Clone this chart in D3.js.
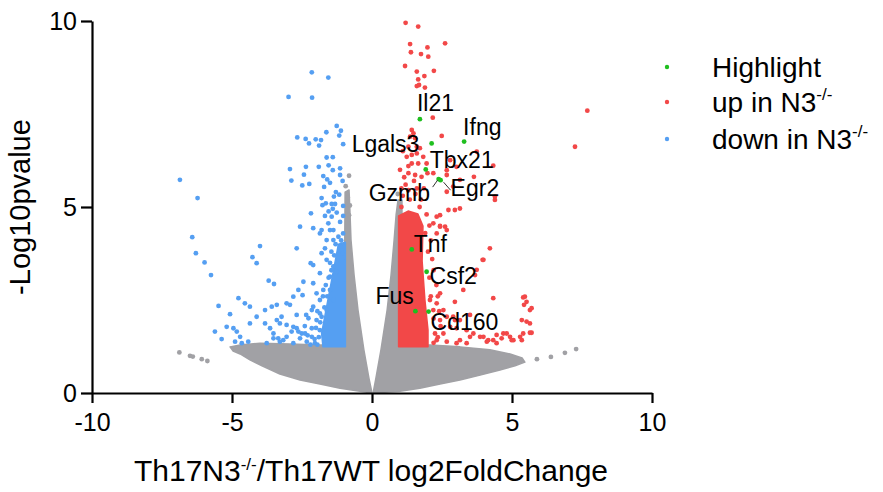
<!DOCTYPE html>
<html>
<head>
<meta charset="utf-8">
<script src="https://cdn.jsdelivr.net/npm/d3@7/dist/d3.min.js"></script>
<style>
  body { margin: 0; background: #fff; }
  text { font-family: "Liberation Sans", Arial, sans-serif; fill: #000; }
</style>
</head>
<body>
<div id="chart"></div>
<script>
// ---- data ----
const xTicks = [-10, -5, 0, 5, 10];
const yTicks = [0, 5, 10];

// outline of the dense grey cloud (not significant genes), left and right wing
const grayLeftOutline = [[0.0,0],[-0.11,0.40],[-0.29,1.16],[-0.50,2.23],[-0.64,3.17],[-0.75,4.11],[-0.79,4.92],
  [-0.82,5.46],[-0.96,5.40],[-1.0,1.29],[-1.86,1.29],[-2.93,1.32],[-4.0,1.34],[-4.71,1.29],[-5.07,1.24],
  [-4.96,1.13],[-4.71,1.05],[-4.36,0.89],[-3.93,0.73],[-3.29,0.51],[-2.57,0.35],[-1.86,0.24],[-1.14,0.13],[-0.43,0.05]];
const grayRightOutline = [[0.04,0],[0.14,0.40],[0.32,1.16],[0.54,2.23],[0.68,3.17],[0.79,4.11],[0.86,4.78],
  [0.93,5.19],[1.07,5.19],[1.07,1.29],[2.07,1.29],[3.14,1.24],[4.21,1.16],[4.93,1.05],[5.36,0.94],[5.46,0.83],
  [5.11,0.73],[4.57,0.62],[3.86,0.48],[3.14,0.35],[2.43,0.24],[1.71,0.13],[1.0,0.05]];
const graySparse = [[-6.88,1.09],[-6.50,1.00],[-6.40,0.98],[-6.08,0.91],[-5.88,0.86],[5.89,0.91],[6.39,0.97],
  [6.89,1.08],[7.29,1.18],[-0.82,5.84],[-0.94,5.56],[-0.87,5.26],[-0.79,5.04],[-0.82,4.78],[0.92,5.35]];

// dense core of "down" genes and scattered "down" genes
const downCore = [[-0.95,1.24],[-1.75,1.24],[-1.8,1.6],[-1.6,2.4],[-1.45,3.0],[-1.3,3.6],[-1.2,4.0],[-0.95,4.05]];
const downGenes = [[-2.15,8.62],[-1.56,8.48],[-2.98,7.96],[-2.14,7.94],[-1.26,7.18],[-1.11,7.05],[-1.17,6.92],
  [-2.67,6.87],[-2.37,6.83],[-2.25,6.71],[-2.01,6.82],[-1.82,6.80],[-1.89,6.65],[-1.63,7.01],[-1.03,6.69],
  [-1.62,6.33],[-1.40,6.34],[-2.93,6.02],[-2.36,6.08],[-1.90,6.08],[-1.55,6.12],[-1.40,5.99],[-1.14,6.04],
  [-2.43,5.87],[-1.74,5.83],[-1.14,5.86],[-1.60,5.74],[-1.50,5.65],[-1.05,5.70],[-2.88,5.71],[-2.49,5.58],
  [-2.24,5.62],[-1.71,5.54],[-1.29,5.40],[-1.17,5.33],[-1.36,5.28],[-1.80,5.24],[-1.65,5.10],[-1.44,5.08],
  [-1.32,5.08],[-1.03,5.03],[-1.77,5.05],[-1.55,4.88],[-1.40,4.95],[-1.26,4.85],[-2.18,4.83],[-1.68,4.76],
  [-1.44,4.74],[-1.03,4.76],[-2.57,4.47],[-2.10,4.43],[-1.86,4.29],[-1.50,4.38],[-1.38,4.38],[-1.80,4.38],
  [-1.03,4.29],[-1.56,4.56],[-1.14,4.60],[-2.69,3.89],[-1.68,3.89],[-1.62,4.11],[-1.38,4.11],[-1.14,3.93],
  [-1.80,3.76],[-1.05,3.76],[-2.19,3.49],[-2.10,3.44],[-1.62,3.58],[-1.38,3.40],[-1.50,3.13],[-1.26,3.26],
  [-1.86,3.22],[-2.10,2.95],[-1.98,2.68],[-1.74,2.77],[-1.50,2.77],[-1.86,2.50],[-1.62,2.23],[-1.38,2.50],
  [-2.10,2.32],[-1.98,1.96],[-1.86,1.69],[-2.15,1.51],[-2.04,1.34],
  [-2.05,1.45],[-1.95,1.30],[-1.90,1.50],[-2.00,1.75],[-1.85,1.90],[-1.80,2.05],[-1.95,2.20],[-1.70,2.30],
  [-1.75,2.60],[-1.60,2.60],[-1.65,2.90],[-1.55,3.10],[-1.45,3.30],[-1.50,3.50],[-1.35,3.70],[-1.45,3.80],
  [-1.30,4.00],[-1.20,4.20],[-1.10,4.10],[-2.20,1.30],[-2.30,1.55],[-2.40,1.80],[-2.35,2.10],
  [-6.86,5.73],[-6.23,5.24],[-6.42,4.19],[-6.29,3.76],[-5.98,3.51],[-5.75,3.17],[-5.48,2.34],[-5.07,2.12],
  [-5.61,1.65],[-5.37,1.45],[-5.19,1.78],[-4.95,1.74],[-4.83,1.65],[-4.71,1.51],[-4.42,1.38],[-4.77,2.55],
  [-4.54,2.41],[-4.36,2.32],[-4.27,3.65],[-4.12,3.49],[-4.0,3.95],[-3.69,3.02],[-3.50,2.93],[-4.12,2.05],
  [-3.82,2.23],[-3.58,2.32],[-3.40,2.37],[-3.82,1.87],[-3.64,1.74],[-3.40,1.96],[-3.23,2.05],[-3.05,1.83],
  [-2.87,1.65],[-2.69,1.74],[-3.76,1.34],[-3.52,1.47],[-3.29,1.38],[-3.05,1.51],[-2.81,1.34],[-2.51,1.60],
  [-2.33,1.38],[-3.05,2.41],[-2.81,2.59],[-2.63,2.77],[-2.45,2.99],[-2.48,2.63],[-4.89,1.38],[-4.65,1.34],
  [-4.36,1.87],[-3.52,1.60],[-3.35,1.47],[-3.17,1.42],[-3.29,1.87],[-2.81,1.78],[-2.63,1.65],[-2.69,2.10],
  [-2.93,2.37],[-2.39,1.60],[-2.57,1.47],[-2.15,1.74],[-1.86,2.14],[-2.15,2.23],[-2.27,2.01]];

// dense core of "up" genes and scattered "up" genes
const upCore = [[0.95,1.24],[0.95,4.76],[1.29,4.89],[1.64,4.81],[1.82,4.49],[1.79,3.55],[1.89,2.50],[2.0,1.69],[2.0,1.24]];
const upGenes = [[1.20,9.95],[1.65,9.85],[1.36,9.38],[1.98,9.29],[2.61,9.40],[1.39,9.16],[1.75,9.11],[2.01,9.04],
  [1.18,8.79],[1.60,8.64],[1.87,8.52],[2.21,8.66],[1.65,8.43],[1.60,8.25],[1.68,8.28],[1.89,8.21],[2.17,7.40],
  [2.49,6.91],[1.42,7.07],[1.48,6.98],[1.36,6.89],[1.54,6.85],[1.60,6.62],[1.30,6.62],[1.42,6.40],[1.60,6.44],
  [1.71,6.58],[1.24,6.35],[1.42,6.17],[1.65,6.17],[1.83,6.35],[1.95,6.17],[1.30,5.91],[1.54,5.86],[1.77,5.81],
  [1.98,5.91],[2.19,5.91],[2.67,5.99],[2.79,6.26],[3.02,6.08],[3.14,5.73],[2.90,5.55],[2.67,5.41],[2.73,4.92],
  [2.96,4.92],[3.14,4.96],[2.31,4.74],[2.19,4.56],[2.43,4.47],[2.61,4.47],[2.31,4.29],[2.67,4.38],[4.33,6.11],
  [4.39,5.19],[4.21,3.89],[3.98,3.58],[3.74,3.31],[3.26,2.77],[2.96,2.45],[2.43,2.68],[2.31,2.41],[2.07,2.50],
  [2.19,2.23],[2.55,2.23],[2.67,2.05],[2.43,1.96],[2.96,1.96],[3.38,1.69],[3.62,1.60],[3.98,1.51],[4.33,1.42],
  [4.69,1.60],[4.93,1.51],[5.05,1.42],[5.35,1.42],[5.46,2.59],[5.52,2.45],[5.35,1.96],[5.52,1.92],[5.64,2.23],
  [5.70,1.62],[4.45,1.56],[4.10,1.38],[3.38,1.34],[3.02,1.34],[2.67,1.38],[2.31,1.42],[2.55,1.60],[3.02,1.74],
  [2.79,1.78],[7.69,7.59],[7.25,6.62],[3.74,6.49],[3.64,5.81],[2.67,5.86],[4.39,5.28],[2.43,4.78],[2.43,4.49],
  [3.95,3.58],[3.68,3.17],[4.33,2.55],[5.40,2.57],[5.70,2.28],[5.43,2.37],[5.64,1.87],[5.40,1.60],[5.64,1.62],
  [5.29,1.51],[4.81,1.60],[4.63,1.47],[4.99,1.42],[4.45,1.34],[4.15,1.42],[3.86,1.51],[3.50,1.51],[3.14,1.42],
  [3.14,1.96],[3.50,2.10],[2.90,2.05],[1.1,5.3],[1.3,5.45],[1.55,5.35],[1.75,5.2],[1.2,5.6],[1.5,5.7],[1.05,5.0],
  [1.9,4.3],[2.0,3.8],[2.05,3.1],[2.1,2.6],[2.2,2.0],[2.25,1.6],[2.2,1.35],
  [1.05,5.5],[1.15,5.8],[1.35,5.2],[1.6,5.5],[1.85,5.5],[1.0,6.0],[1.3,6.1],[1.1,6.5],[1.7,5.0],[1.95,4.8],
  [2.05,4.5],[2.1,4.1],[2.15,3.6],[2.2,3.3],[2.3,2.9],[2.35,2.6],[2.4,2.2],[2.45,1.8],[2.35,1.5]];

// highlighted genes
const geneNames = ["Il21", "Lgals3", "Ifng", "Tbx21", "Gzmb", "Egr2", "Tnf", "Csf2", "Fus", "Cd160"];
const geneX = [1.71, 2.13, 3.29, 1.92, 2.38, 2.45, 1.42, 1.95, 1.55, 2.02];
const geneY = [7.36, 6.71, 6.76, 6.01, 5.75, 5.72, 3.86, 3.26, 2.20, 2.19];

const legendLabels = ["Highlight", "up in N3", "down in N3"];

// ---- layout ----
let margin = {top: 21, right: 231, bottom: 99, left: 92},
  width = 883 - margin.left - margin.right,
  height = 492 - margin.top - margin.bottom;

const colors = {gray: "#a1a1a5", up: "#f24848", down: "#559ff2", high: "#1fbf1f"};
const r = 2.4;

var svg = d3.select("#chart")
  .append("svg")
    .attr("width", 883)
    .attr("height", 492);

var g = svg.append("g")
  .attr("transform", "translate(" + margin.left + "," + margin.top + ")");

var x = d3.scaleLinear().domain([-10, 10]).range([0, width]);
var y = d3.scaleLinear().domain([0, 10]).range([height, 0]);

var outline = d3.line()
  .x(function(d) { return x(d[0]); })
  .y(function(d) { return y(d[1]); });

function cloud(pts, col) {
  g.append("path")
    .attr("d", outline(pts) + "Z")
    .attr("fill", col)
    .attr("stroke", col)
    .attr("stroke-width", 1.5)
    .attr("stroke-linejoin", "round");
}

function dots(pts, col, rad) {
  g.append("g").selectAll("circle")
    .data(pts)
    .enter().append("circle")
    .attr("cx", function(d) { return x(d[0]); })
    .attr("cy", function(d) { return y(d[1]); })
    .attr("r", rad)
    .attr("fill", col);
}

// grey cloud first, then down, up, highlighted
cloud(grayLeftOutline, colors.gray);
cloud(grayRightOutline, colors.gray);
dots(graySparse, colors.gray, r);
cloud(downCore, colors.down);
dots(downGenes, colors.down, r);
cloud(upCore, colors.up);
dots(upGenes, colors.up, r);

var genes = geneNames.map(function(n, i) { return {name: n, x: geneX[i], y: geneY[i]}; });
dots(genes.map(function(d) { return [d.x, d.y]; }), colors.high, r);

// label offsets from each dot (px)
const labelPos = {
  Il21: [-3, -8], Lgals3: [-80, 9], Ifng: [-1, -7], Tbx21: [4, -1], Gzmb: [-70, 22],
  Egr2: [10, 16], Tnf: [2, 3], Csf2: [3, 12], Fus: [-40, -7], Cd160: [2, 18]
};
const leaders = { Gzmb: [[-6, 8], [-1, 1]], Egr2: [[3, 2], [10, 10]] };

g.append("g").selectAll("text")
  .data(genes)
  .enter().append("text")
  .attr("x", function(d) { return x(d.x) + labelPos[d.name][0]; })
  .attr("y", function(d) { return y(d.y) + labelPos[d.name][1]; })
  .style("font-size", "23px")
  .text(function(d) { return d.name; });

genes.filter(function(d) { return leaders[d.name]; }).forEach(function(d) {
  var l = leaders[d.name];
  g.append("line")
    .attr("x1", x(d.x) + l[0][0]).attr("y1", y(d.y) + l[0][1])
    .attr("x2", x(d.x) + l[1][0]).attr("y2", y(d.y) + l[1][1])
    .attr("stroke", "#333").attr("stroke-width", 1);
});

// axes (plain hyphen for negatives, like the original)
var plain = function(d) { return String(d); };
var xAxis = g.append("g")
  .attr("transform", "translate(0," + height + ")")
  .call(d3.axisBottom(x).tickValues(xTicks).tickFormat(plain).tickSize(10).tickSizeOuter(0).tickPadding(10));
var yAxis = g.append("g")
  .call(d3.axisLeft(y).tickValues(yTicks).tickFormat(plain).tickSize(11).tickSizeOuter(0).tickPadding(4));

[xAxis, yAxis].forEach(function(a) {
  a.selectAll("path, line").attr("stroke", "#000").attr("stroke-width", 2.2);
  a.selectAll("text").style("font-size", "25px").style("font-family", '"Liberation Sans", Arial, sans-serif');
});

// axis titles
var xt = svg.append("text")
  .attr("x", 371)
  .attr("y", 481)
  .attr("text-anchor", "middle")
  .style("font-size", "30px");
xt.append("tspan").text("Th17N3");
xt.append("tspan").attr("dy", -11).style("font-size", "17px").text("-/-");
xt.append("tspan").attr("dy", 11).text("/Th17WT log2FoldChange");

svg.append("text")
  .attr("transform", "translate(30,207) rotate(-90)")
  .attr("text-anchor", "middle")
  .style("font-size", "29px")
  .text("-Log10pvalue");

// legend
var legendCols = [colors.high, colors.up, colors.down];
var legend = svg.append("g").attr("transform", "translate(667,0)");
legendLabels.forEach(function(lab, i) {
  var cy = [67, 102, 139][i];
  legend.append("circle").attr("cx", 0).attr("cy", cy).attr("r", 2.2).attr("fill", legendCols[i]);
  var t = legend.append("text")
    .attr("x", 45)
    .attr("y", cy + 10)
    .style("font-size", "28px");
  t.append("tspan").text(lab);
  if (i > 0) t.append("tspan").attr("dy", -12).style("font-size", "17px").text("-/-");
});
</script>
</body>
</html>
